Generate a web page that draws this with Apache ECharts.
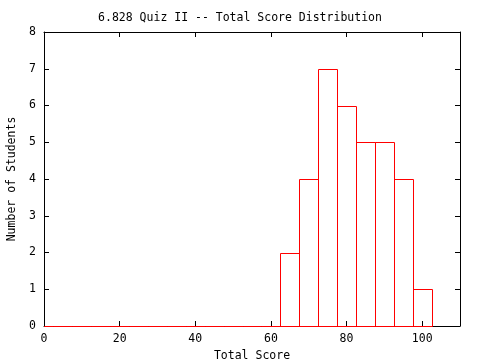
<!DOCTYPE html>
<html><head><meta charset="utf-8">
<script src="https://cdn.jsdelivr.net/npm/echarts@6/dist/echarts.min.js"></script>
<style>html,body{margin:0;padding:0;background:#fff}#c{width:480px;height:360px}</style>
</head><body><div id="c"></div>
<script>
var titleText = '6.828 Quiz II -- Total Score Distribution';
var xName = 'Total Score';
var yName = 'Number of Students';
var binWidth = 5;
var binCenters = [0, 5, 10, 15, 20, 25, 30, 35, 40, 45, 50, 55, 60, 65, 70, 75, 80, 85, 90, 95, 100];
var counts =     [0, 0, 0,  0,  0,  0,  0,  0,  0,  0,  0,  0,  0,  2,  4,  7,  6,  5,  5,  4,  1];
var xMin = 0, xMax = 110, xStep = 20;
var yMin = 0, yMax = 8, yStep = 1;

var font = 'DejaVu Sans Mono';
var data = binCenters.map(function (c, i) { return [c, counts[i]]; });
var chart = echarts.init(document.getElementById('c'), null, {renderer: 'canvas'});
function px(v) { return Math.round(v) + 0.5; }
var axisLine = {show: true, onZero: false, lineStyle: {color: '#000', width: 1}};
var tick = {show: true, inside: true, length: 5, lineStyle: {color: '#000', width: 1}};
var lbl = {color: '#000', fontFamily: font, fontSize: 11.5};
chart.setOption({
  animation: false,
  backgroundColor: '#fff',
  title: {text: titleText, left: 'center', top: 7,
    textStyle: {fontFamily: font, fontSize: 11.5, fontWeight: 'normal', color: '#000'}},
  grid: {left: 44, right: 20, top: 32, bottom: 34, containLabel: false, outerBoundsMode: 'none'},
  xAxis: [
    {type: 'value', min: xMin, max: xMax, interval: xStep, position: 'bottom',
     axisLine: axisLine, axisTick: tick, splitLine: {show: false},
     axisLabel: Object.assign({margin: 7, showMaxLabel: false}, lbl),
     name: xName, nameLocation: 'middle', nameGap: 21,
     nameTextStyle: {fontFamily: font, fontSize: 11.5, color: '#000'}},
    {type: 'value', min: xMin, max: xMax, interval: xStep, position: 'top',
     axisLine: axisLine, axisTick: tick, splitLine: {show: false}, axisLabel: {show: false}}
  ],
  yAxis: [
    {type: 'value', min: yMin, max: yMax, interval: yStep, position: 'left',
     axisLine: axisLine, axisTick: tick, splitLine: {show: false},
     axisLabel: Object.assign({margin: 8}, lbl),
     name: yName, nameLocation: 'middle', nameGap: 26, nameRotate: 90,
     nameTextStyle: {fontFamily: font, fontSize: 11.5, color: '#000'}},
    {type: 'value', min: yMin, max: yMax, interval: yStep, position: 'right',
     axisLine: axisLine, axisTick: tick, splitLine: {show: false}, axisLabel: {show: false}}
  ],
  series: [{
    type: 'custom',
    clip: false,
    z: 100,
    zlevel: 1,
    data: data,
    renderItem: function (params, api) {
      var c = api.value(0), v = api.value(1);
      var p1 = api.coord([c - binWidth / 2, v]);
      var p2 = api.coord([c + binWidth / 2, 0]);
      var left = px(params.coordSys.x);
      var x1 = Math.max(px(p1[0]), left), x2 = px(p2[0]), y1 = px(p1[1]), y2 = px(p2[1]);
      return {
        type: 'polyline',
        shape: {points: [[x1, y2], [x1, y1], [x2, y1], [x2, y2], [x1, y2]]},
        style: {fill: null, stroke: '#ff0000', lineWidth: 1}
      };
    }
  }]
});
</script></body></html>
